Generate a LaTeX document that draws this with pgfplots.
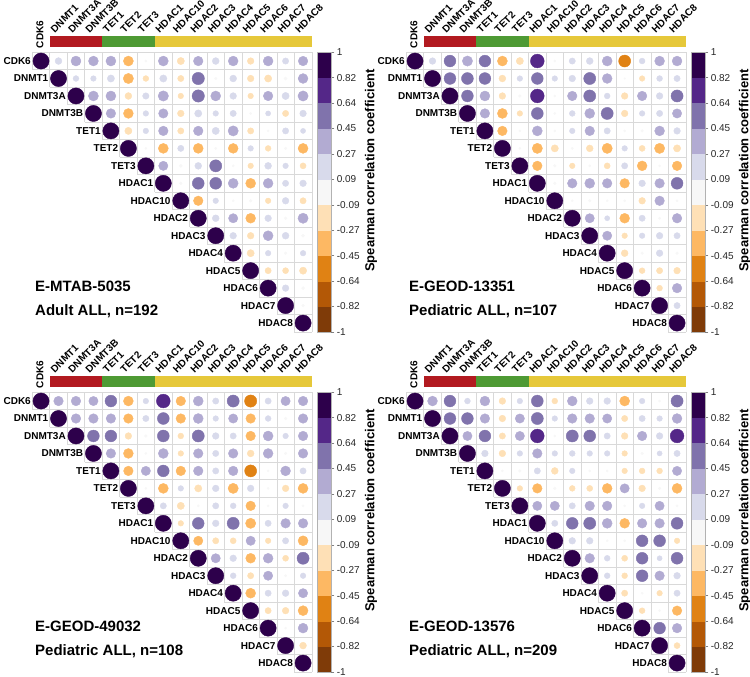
\documentclass[border=0pt]{standalone}
\usepackage{fontspec}
\setmainfont{Liberation Sans}
\usepackage{pgfplots}
\usepackage{pgfplotstable}
\pgfplotsset{compat=1.18}
\definecolor{gridc}{gray}{0.85}
\definecolor{cdnmt}{RGB}{178,26,32}
\definecolor{ctet}{RGB}{78,154,52}
\definecolor{chdac}{RGB}{230,200,58}

% E-MTAB-5035
\pgfplotstableread[row sep=\\]{
i j v\\
0 0 1\\ 0 1 0.18\\ 0 2 0.38\\ 0 3 0.37\\ 0 4 0.38\\ 0 5 -0.38\\ 0 6 0.02\\ 0 7 0.38\\ 0 8 -0.2\\ 0 9 0.35\\ 0 10 0.18\\ 0 11 0.37\\ 0 12 -0.17\\ 0 13 0.37\\ 0 14 0.15\\ 0 15 0.35\\
1 1 1\\ 1 2 0.13\\ 1 3 0.12\\ 1 4 0.2\\ 1 5 -0.4\\ 1 6 -0.13\\ 1 7 0.2\\ 1 8 -0.15\\ 1 9 0.58\\ 1 10 0.03\\ 1 11 0.18\\ 1 12 -0.17\\ 1 13 -0.2\\ 1 14 0.04\\ 1 15 0.37\\
2 2 1\\ 2 3 0.38\\ 2 4 0.38\\ 2 5 -0.18\\ 2 6 0.16\\ 2 7 0.41\\ 2 8 -0.12\\ 2 9 0.58\\ 2 10 0.38\\ 2 11 0.17\\ 2 12 -0.12\\ 2 13 0.35\\ 2 14 0.2\\ 2 15 0.4\\
3 3 1\\ 3 4 0.35\\ 3 5 -0.37\\ 3 6 0.12\\ 3 7 0.34\\ 3 8 -0.17\\ 3 9 0.2\\ 3 10 0.12\\ 3 11 0.15\\ 3 12 0.02\\ 3 13 0.1\\ 3 14 -0.15\\ 3 15 0.17\\
4 4 1\\ 4 5 -0.2\\ 4 6 0.12\\ 4 7 0.35\\ 4 8 -0.15\\ 4 9 0.35\\ 4 10 0.2\\ 4 11 0.4\\ 4 12 -0.15\\ 4 13 0.02\\ 4 14 0.15\\ 4 15 0.1\\
5 5 1\\ 5 6 0.02\\ 5 7 -0.38\\ 5 8 0.15\\ 5 9 -0.38\\ 5 10 0.02\\ 5 11 -0.37\\ 5 12 0.12\\ 5 13 -0.13\\ 5 14 0.03\\ 5 15 -0.38\\
6 6 1\\ 6 7 0.33\\ 6 8 0.04\\ 6 9 0.18\\ 6 10 0.56\\ 6 11 0.02\\ 6 12 -0.12\\ 6 13 0.18\\ 6 14 0.12\\ 6 15 -0.14\\
7 7 1\\ 7 8 0.03\\ 7 9 0.54\\ 7 10 0.54\\ 7 11 0.38\\ 7 12 -0.38\\ 7 13 0.37\\ 7 14 0.15\\ 7 15 0.17\\
8 8 1\\ 8 9 -0.35\\ 8 10 0.12\\ 8 11 0.02\\ 8 12 0.03\\ 8 13 -0.12\\ 8 14 0.17\\ 8 15 -0.15\\
9 9 1\\ 9 10 0.18\\ 9 11 0.33\\ 9 12 -0.37\\ 9 13 0.17\\ 9 14 0.03\\ 9 15 0.4\\
10 10 1\\ 10 11 0.17\\ 10 12 -0.17\\ 10 13 0.38\\ 10 14 0.18\\ 10 15 0.04\\
11 11 1\\ 11 12 -0.2\\ 11 13 0.12\\ 11 14 0.03\\ 11 15 0.12\\
12 12 1\\ 12 13 -0.15\\ 12 14 -0.14\\ 12 15 -0.2\\
13 13 1\\ 13 14 0.17\\ 13 15 0.04\\
14 14 1\\ 14 15 0.03\\
15 15 1\\
}\tabA

% E-GEOD-13351
\pgfplotstableread[row sep=\\]{
i j v\\
0 0 1\\ 0 1 0.17\\ 0 2 0.53\\ 0 3 0.4\\ 0 4 0.53\\ 0 5 -0.38\\ 0 6 -0.2\\ 0 7 0.72\\ 0 8 0.02\\ 0 9 0.15\\ 0 10 0.18\\ 0 11 0.38\\ 0 12 -0.55\\ 0 13 0.13\\ 0 14 0.37\\ 0 15 0.37\\
1 1 1\\ 1 2 0.53\\ 1 3 0.54\\ 1 4 0.53\\ 1 5 -0.18\\ 1 6 0.12\\ 1 7 0.53\\ 1 8 0.12\\ 1 9 0.17\\ 1 10 0.56\\ 1 11 0.37\\ 1 12 0.01\\ 1 13 -0.12\\ 1 14 0.13\\ 1 15 0.15\\
2 2 1\\ 2 3 0.53\\ 2 4 0.38\\ 2 5 -0.17\\ 2 6 0.03\\ 2 7 0.72\\ 2 8 0.02\\ 2 9 0.35\\ 2 10 0.56\\ 2 11 0.13\\ 2 12 -0.17\\ 2 13 0.35\\ 2 14 0.17\\ 2 15 0.56\\
3 3 1\\ 3 4 0.35\\ 3 5 -0.38\\ 3 6 -0.12\\ 3 7 0.54\\ 3 8 0.02\\ 3 9 0.13\\ 3 10 0.38\\ 3 11 0.56\\ 3 12 -0.17\\ 3 13 0.12\\ 3 14 0.15\\ 3 15 0.33\\
4 4 1\\ 4 5 -0.35\\ 4 6 0.02\\ 4 7 0.38\\ 4 8 0.02\\ 4 9 0.12\\ 4 10 0.35\\ 4 11 0.15\\ 4 12 0.02\\ 4 13 0.03\\ 4 14 0.37\\ 4 15 0.17\\
5 5 1\\ 5 6 0.02\\ 5 7 -0.4\\ 5 8 -0.2\\ 5 9 0.02\\ 5 10 -0.18\\ 5 11 -0.4\\ 5 12 0.12\\ 5 13 -0.14\\ 5 14 -0.4\\ 5 15 -0.2\\
6 6 1\\ 6 7 -0.35\\ 6 8 0.03\\ 6 9 -0.12\\ 6 10 0.02\\ 6 11 -0.14\\ 6 12 0.15\\ 6 13 -0.37\\ 6 14 0.02\\ 6 15 -0.35\\
7 7 1\\ 7 8 0.03\\ 7 9 0.35\\ 7 10 0.38\\ 7 11 0.35\\ 7 12 -0.35\\ 7 13 0.17\\ 7 14 0.35\\ 7 15 0.54\\
8 8 1\\ 8 9 0.02\\ 8 10 0.03\\ 8 11 0.02\\ 8 12 0.02\\ 8 13 -0.17\\ 8 14 0.35\\ 8 15 0.02\\
9 9 1\\ 9 10 0.33\\ 9 11 0.1\\ 9 12 -0.37\\ 9 13 0.15\\ 9 14 0.02\\ 9 15 0.35\\
10 10 1\\ 10 11 0.33\\ 10 12 -0.12\\ 10 13 0.12\\ 10 14 0.17\\ 10 15 0.15\\
11 11 1\\ 11 12 -0.18\\ 11 13 0.03\\ 11 14 0.17\\ 11 15 0.03\\
12 12 1\\ 12 13 -0.13\\ 12 14 -0.15\\ 12 15 -0.17\\
13 13 1\\ 13 14 -0.13\\ 13 15 0.35\\
14 14 1\\ 14 15 0.15\\
15 15 1\\
}\tabB

% E-GEOD-49032
\pgfplotstableread[row sep=\\]{
i j v\\
0 0 1\\ 0 1 0.35\\ 0 2 0.35\\ 0 3 0.33\\ 0 4 0.53\\ 0 5 -0.37\\ 0 6 0.12\\ 0 7 0.72\\ 0 8 -0.35\\ 0 9 0.38\\ 0 10 0.15\\ 0 11 0.56\\ 0 12 -0.57\\ 0 13 0.15\\ 0 14 0.33\\ 0 15 0.35\\
1 1 1\\ 1 2 0.35\\ 1 3 0.35\\ 1 4 0.35\\ 1 5 -0.35\\ 1 6 0.15\\ 1 7 0.54\\ 1 8 -0.35\\ 1 9 0.38\\ 1 10 0.12\\ 1 11 0.33\\ 1 12 -0.35\\ 1 13 0.13\\ 1 14 0.03\\ 1 15 0.35\\
2 2 1\\ 2 3 0.53\\ 2 4 0.53\\ 2 5 -0.17\\ 2 6 0.03\\ 2 7 0.54\\ 2 8 -0.13\\ 2 9 0.56\\ 2 10 0.17\\ 2 11 0.15\\ 2 12 -0.35\\ 2 13 0.38\\ 2 14 0.12\\ 2 15 0.35\\
3 3 1\\ 3 4 0.35\\ 3 5 -0.37\\ 3 6 0.02\\ 3 7 0.38\\ 3 8 -0.12\\ 3 9 0.35\\ 3 10 0.15\\ 3 11 0.35\\ 3 12 -0.18\\ 3 13 0.37\\ 3 14 0.03\\ 3 15 0.35\\
4 4 1\\ 4 5 -0.35\\ 4 6 0.33\\ 4 7 0.53\\ 4 8 -0.35\\ 4 9 0.35\\ 4 10 0.15\\ 4 11 0.35\\ 4 12 -0.55\\ 4 13 0.02\\ 4 14 0.37\\ 4 15 0.15\\
5 5 1\\ 5 6 0.02\\ 5 7 -0.38\\ 5 8 0.12\\ 5 9 -0.2\\ 5 10 0.17\\ 5 11 -0.4\\ 5 12 0.17\\ 5 13 0.02\\ 5 14 -0.17\\ 5 15 -0.38\\
6 6 1\\ 6 7 0.15\\ 6 8 -0.2\\ 6 9 0.02\\ 6 10 0.15\\ 6 11 0.13\\ 6 12 -0.35\\ 6 13 0.02\\ 6 14 0.12\\ 6 15 0.02\\
7 7 1\\ 7 8 -0.12\\ 7 9 0.53\\ 7 10 0.17\\ 7 11 0.56\\ 7 12 -0.4\\ 7 13 0.15\\ 7 14 0.35\\ 7 15 0.35\\
8 8 1\\ 8 9 -0.33\\ 8 10 -0.15\\ 8 11 -0.14\\ 8 12 0.33\\ 8 13 -0.12\\ 8 14 0.15\\ 8 15 -0.38\\
9 9 1\\ 9 10 0.33\\ 9 11 0.17\\ 9 12 -0.37\\ 9 13 0.37\\ 9 14 -0.14\\ 9 15 0.56\\
10 10 1\\ 10 11 0.13\\ 10 12 -0.15\\ 10 13 0.33\\ 10 14 0.02\\ 10 15 0.12\\
11 11 1\\ 11 12 -0.38\\ 11 13 0.15\\ 11 14 0.17\\ 11 15 0.33\\
12 12 1\\ 12 13 -0.15\\ 12 14 -0.17\\ 12 15 -0.38\\
13 13 1\\ 13 14 0.02\\ 13 15 0.37\\
14 14 1\\ 14 15 -0.18\\
15 15 1\\
}\tabC

% E-GEOD-13576
\pgfplotstableread[row sep=\\]{
i j v\\
0 0 1\\ 0 1 0.37\\ 0 2 0.53\\ 0 3 0.13\\ 0 4 0.37\\ 0 5 -0.17\\ 0 6 0.12\\ 0 7 0.54\\ 0 8 -0.13\\ 0 9 0.37\\ 0 10 0.17\\ 0 11 0.17\\ 0 12 -0.38\\ 0 13 0.12\\ 0 14 0.02\\ 0 15 0.56\\
1 1 1\\ 1 2 0.53\\ 1 3 0.53\\ 1 4 0.35\\ 1 5 -0.17\\ 1 6 0.33\\ 1 7 0.56\\ 1 8 0.12\\ 1 9 0.35\\ 1 10 0.35\\ 1 11 0.33\\ 1 12 -0.15\\ 1 13 0.15\\ 1 14 0.12\\ 1 15 0.37\\
2 2 1\\ 2 3 0.33\\ 2 4 0.53\\ 2 5 -0.15\\ 2 6 0.33\\ 2 7 0.72\\ 2 8 0.02\\ 2 9 0.56\\ 2 10 0.54\\ 2 11 0.15\\ 2 12 -0.17\\ 2 13 0.35\\ 2 14 0.17\\ 2 15 0.72\\
3 3 1\\ 3 4 0.17\\ 3 5 -0.17\\ 3 6 0.12\\ 3 7 0.35\\ 3 8 0.12\\ 3 9 0.13\\ 3 10 0.12\\ 3 11 0.12\\ 3 12 -0.12\\ 3 13 0.03\\ 3 14 0.1\\ 3 15 0.15\\
4 4 1\\ 4 5 0.02\\ 4 6 0.03\\ 4 7 0.15\\ 4 8 -0.18\\ 4 9 0.12\\ 4 10 0.02\\ 4 11 0.02\\ 4 12 -0.12\\ 4 13 -0.13\\ 4 14 -0.13\\ 4 15 0.33\\
5 5 1\\ 5 6 -0.12\\ 5 7 -0.35\\ 5 8 0.03\\ 5 9 -0.13\\ 5 10 -0.14\\ 5 11 -0.37\\ 5 12 0.33\\ 5 13 -0.17\\ 5 14 0.03\\ 5 15 -0.38\\
6 6 1\\ 6 7 0.33\\ 6 8 0.33\\ 6 9 0.15\\ 6 10 0.35\\ 6 11 0.35\\ 6 12 0.02\\ 6 13 0.12\\ 6 14 0.33\\ 6 15 0.02\\
7 7 1\\ 7 8 0.15\\ 7 9 0.53\\ 7 10 0.56\\ 7 11 0.38\\ 7 12 -0.37\\ 7 13 0.35\\ 7 14 0.35\\ 7 15 0.54\\
8 8 1\\ 8 9 0.17\\ 8 10 0.17\\ 8 11 0.02\\ 8 12 0.02\\ 8 13 0.53\\ 8 14 0.54\\ 8 15 -0.12\\
9 9 1\\ 9 10 0.35\\ 9 11 0.13\\ 9 12 -0.14\\ 9 13 0.53\\ 9 14 0.1\\ 9 15 0.54\\
10 10 1\\ 10 11 0.13\\ 10 12 -0.13\\ 10 13 0.53\\ 10 14 0.35\\ 10 15 0.17\\
11 11 1\\ 11 12 -0.15\\ 11 13 0.02\\ 11 14 -0.12\\ 11 15 0.15\\
12 12 1\\ 12 13 -0.13\\ 12 14 0.02\\ 12 15 -0.35\\
13 13 1\\ 13 14 0.53\\ 13 15 0.35\\
14 14 1\\ 14 15 -0.14\\
15 15 1\\
}\tabD

\pgfplotsset{
  corr/.style={
    scale only axis, width=279.5pt, height=279.5pt,
    xmin=-0.5, xmax=15.5, ymin=-0.5, ymax=15.5, y dir=reverse,
    hide axis, clip=false, anchor=north west,
    colormap={puor}{rgb255=(127,59,8) rgb255=(179,88,6) rgb255=(224,130,20) rgb255=(253,184,99) rgb255=(254,224,182) rgb255=(247,247,247) rgb255=(216,218,235) rgb255=(178,171,210) rgb255=(128,115,172) rgb255=(84,39,136) rgb255=(45,0,75)},
    colormap access=piecewise constant,
    point meta min=-1, point meta max=1,
    colorbar right,
    colorbar shift/.style={xshift=5.5pt},
    colorbar style={
      at={(parent axis.north east)}, anchor=north west,
      width=14pt,
      ytick={-1,-0.818182,-0.636364,-0.454545,-0.272727,-0.090909,0.090909,0.272727,0.454545,0.636364,0.818182,1},
      yticklabels={-1,-0.82,-0.64,-0.45,-0.27,-0.09,0.09,0.27,0.45,0.64,0.82,1},
      yticklabel style={font=\fontsize{10}{12}\selectfont, text=black!85, xshift=-1pt},
      ytick pos=right,
      major tick length=3pt, tick align=outside,
      ytick style={draw=gray, line width=0.5pt},
      axis line style={draw=gray!60, line width=0.5pt},
    },
  },
}
\tikzset{
  rl/.style={anchor=east, font=\bfseries\fontsize{10}{12}\selectfont, inner sep=1.3pt},
  cl/.style={anchor=base west, rotate=45, font=\bfseries\fontsize{10}{12}\selectfont, inner sep=0pt},
  ttl/.style={anchor=base west, font=\bfseries\fontsize{15}{18}\selectfont, inner sep=0pt},
  cbt/.style={anchor=center, rotate=90, font=\bfseries\fontsize{13}{15}\selectfont, inner sep=0pt},
}

\newcommand\panel[5]{%
\begin{axis}[corr, at={(#1,#2)}]
\pgfplotsinvokeforeach{0,...,16}{
  \draw[gridc, line width=0.6pt] (axis cs:{max(##1-1,0)-0.5},{##1-0.5}) -- (axis cs:15.5,{##1-0.5});
  \draw[gridc, line width=0.6pt] (axis cs:{##1-0.5},-0.5) -- (axis cs:{##1-0.5},{min(##1,15)+0.5});
}
\addplot[scatter, only marks, mark=*, point meta=explicit,
  scatter/use mapped color={draw=mapped color, fill=mapped color},
  visualization depends on={8.1*sqrt(abs(\thisrow{v}))\as\rad},
  scatter/@pre marker code/.append style={/tikz/mark size=\rad, /tikz/line width=0.3pt}]
  table[x=j, y=i, meta=v] {#3};
\fill[cdnmt] (axis cs:0.5,-1.433) rectangle (axis cs:3.5,-0.786);
\fill[ctet] (axis cs:3.5,-1.433) rectangle (axis cs:6.5,-0.786);
\fill[chdac] (axis cs:6.5,-1.433) rectangle (axis cs:15.5,-0.786);
\node[rl] at (axis cs:-0.5,0) {CDK6};
\node[rl] at (axis cs:0.5,1) {DNMT1};
\node[rl] at (axis cs:1.5,2) {DNMT3A};
\node[rl] at (axis cs:2.5,3) {DNMT3B};
\node[rl] at (axis cs:3.5,4) {TET1};
\node[rl] at (axis cs:4.5,5) {TET2};
\node[rl] at (axis cs:5.5,6) {TET3};
\node[rl] at (axis cs:6.5,7) {HDAC1};
\node[rl] at (axis cs:7.5,8) {HDAC10};
\node[rl] at (axis cs:8.5,9) {HDAC2};
\node[rl] at (axis cs:9.5,10) {HDAC3};
\node[rl] at (axis cs:10.5,11) {HDAC4};
\node[rl] at (axis cs:11.5,12) {HDAC5};
\node[rl] at (axis cs:12.5,13) {HDAC6};
\node[rl] at (axis cs:13.5,14) {HDAC7};
\node[rl] at (axis cs:14.5,15) {HDAC8};
\node[anchor=west, rotate=90, inner sep=0pt, font=\bfseries\fontsize{10}{12}\selectfont] at (axis cs:-0.06,-0.73) {CDK6};
\node[cl] at (axis cs:0.78,-1.59) {DNMT1};
\node[cl] at (axis cs:1.78,-1.59) {DNMT3A};
\node[cl] at (axis cs:2.78,-1.59) {DNMT3B};
\node[cl] at (axis cs:3.78,-1.59) {TET1};
\node[cl] at (axis cs:4.78,-1.59) {TET2};
\node[cl] at (axis cs:5.78,-1.59) {TET3};
\node[cl] at (axis cs:6.78,-1.59) {HDAC1};
\node[cl] at (axis cs:7.78,-1.59) {HDAC10};
\node[cl] at (axis cs:8.78,-1.59) {HDAC2};
\node[cl] at (axis cs:9.78,-1.59) {HDAC3};
\node[cl] at (axis cs:10.78,-1.59) {HDAC4};
\node[cl] at (axis cs:11.78,-1.59) {HDAC5};
\node[cl] at (axis cs:12.78,-1.59) {HDAC6};
\node[cl] at (axis cs:13.78,-1.59) {HDAC7};
\node[cl] at (axis cs:14.78,-1.59) {HDAC8};
\node[ttl] at (axis cs:-0.345,13.22) {#4};
\node[ttl] at (axis cs:-0.345,14.54) {#5};
\node[cbt] at (axis cs:18.89,6.27) {Spearman correlation coefficient};
\end{axis}}

\begin{document}
\begin{tikzpicture}
\useasboundingbox (0pt,0pt) rectangle (750pt,-677pt);
\panel{32.3pt}{-52.3pt}{\tabA}{E-MTAB-5035}{Adult ALL, n=192}
\panel{406.3pt}{-52.3pt}{\tabB}{E-GEOD-13351}{Pediatric ALL, n=107}
\panel{32.3pt}{-392.3pt}{\tabC}{E-GEOD-49032}{Pediatric ALL, n=108}
\panel{406.3pt}{-392.3pt}{\tabD}{E-GEOD-13576}{Pediatric ALL, n=209}
\end{tikzpicture}
\end{document}
